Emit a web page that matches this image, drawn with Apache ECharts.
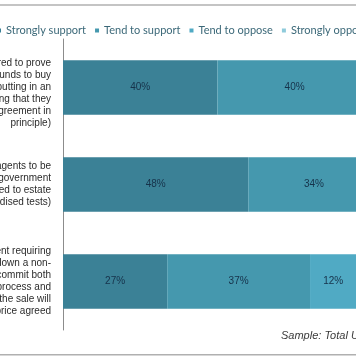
<!DOCTYPE html>
<html>
<head>
<meta charset="utf-8">
<script src="https://cdn.jsdelivr.net/npm/echarts@6/dist/echarts.min.js"></script>
<style>
html,body{margin:0;padding:0;background:#fff;overflow:hidden;width:356px;height:364px;}
#wrap{position:absolute;left:0;top:0;width:356px;height:364px;overflow:hidden;}
#chart{position:absolute;left:-300px;top:0;width:856px;height:364px;}
</style>
</head>
<body>
<div id="wrap"><div id="chart"></div></div>
<script>
const categories = [
  "Buyers being required to prove\nthat they have the funds to buy\na property before putting in an\noffer (e.g. showing that they\nhave a mortgage agreement in\nprinciple)",
  "Requiring estate agents to be\nlicensed by a government\nbody (e.g. linked to estate\nagents passing standardised tests)",
  "An agreement requiring\nbuyers and sellers to put down a non-\nrefundable deposit to commit both\nparties to the sale process and\nprovide reassurance that the sale will\ngo through at the price agreed"
];
const seriesNames = ["Strongly support", "Tend to support", "Tend to oppose", "Strongly oppose"];
const stronglySupport = [40, 48, 27];
const tendToSupport = [40, 34, 37];
const tendToOppose = [12, 10, 12];
const stronglyOppose = [5, 5, 18];
const sampleNote = "Sample: Total UK adults";

const OFF = 300;
const colors = ['#3b8196', '#4598ae', '#50aac4', '#8fcbdb'];
const values = [stronglySupport, tendToSupport, tendToOppose, stronglyOppose];

const chart = echarts.init(document.getElementById('chart'));
chart.setOption({
  animation: false,
  backgroundColor: '#fff',
  color: colors,
  legend: {
    left: OFF - 3, top: 25, padding: 0,
    icon: 'rect', itemWidth: 4, itemHeight: 4, itemGap: 9,
    textStyle: {fontFamily: 'Lato', fontSize: 11, color: '#3b6878'},
    data: seriesNames
  },
  grid: {left: OFF + 63, top: 39, width: 386, height: 291, containLabel: false},
  xAxis: {type: 'value', min: 0, max: 100, show: false},
  yAxis: {
    type: 'category', inverse: true,
    data: categories,
    axisLine: {lineStyle: {color: '#8c8c8c', width: 1}},
    axisTick: {length: 3, lineStyle: {color: '#8c8c8c'}},
    axisLabel: {
      fontFamily: 'Liberation Sans', fontSize: 10, lineHeight: 12, color: '#2b2b2b', margin: 12, align: 'right',
      formatter: (v, i) => (i === 0 ? '\n' + v : v)
    }
  },
  series: seriesNames.map((n, i) => ({
    name: n, type: 'bar', stack: 'all', barWidth: '56%',
    data: values[i],
    itemStyle: {color: colors[i]},
    label: {show: true, position: 'inside', formatter: '{c}%', fontFamily: 'Liberation Sans', fontSize: 10, color: '#16324a'}
  })),
  graphic: [
    {type: 'rect', shape: {x: 0, y: 4, width: 856, height: 2}, style: {fill: '#c4c4c4'}},
    {type: 'rect', shape: {x: 0, y: 354, width: 856, height: 1.5}, style: {fill: '#b0b0b0'}},
    {type: 'text', x: OFF + 281, y: 336, style: {text: sampleNote, font: 'italic 11px "Liberation Sans"', fill: '#3a3a3a', verticalAlign: 'middle'}}
  ]
});
</script>
</body>
</html>
